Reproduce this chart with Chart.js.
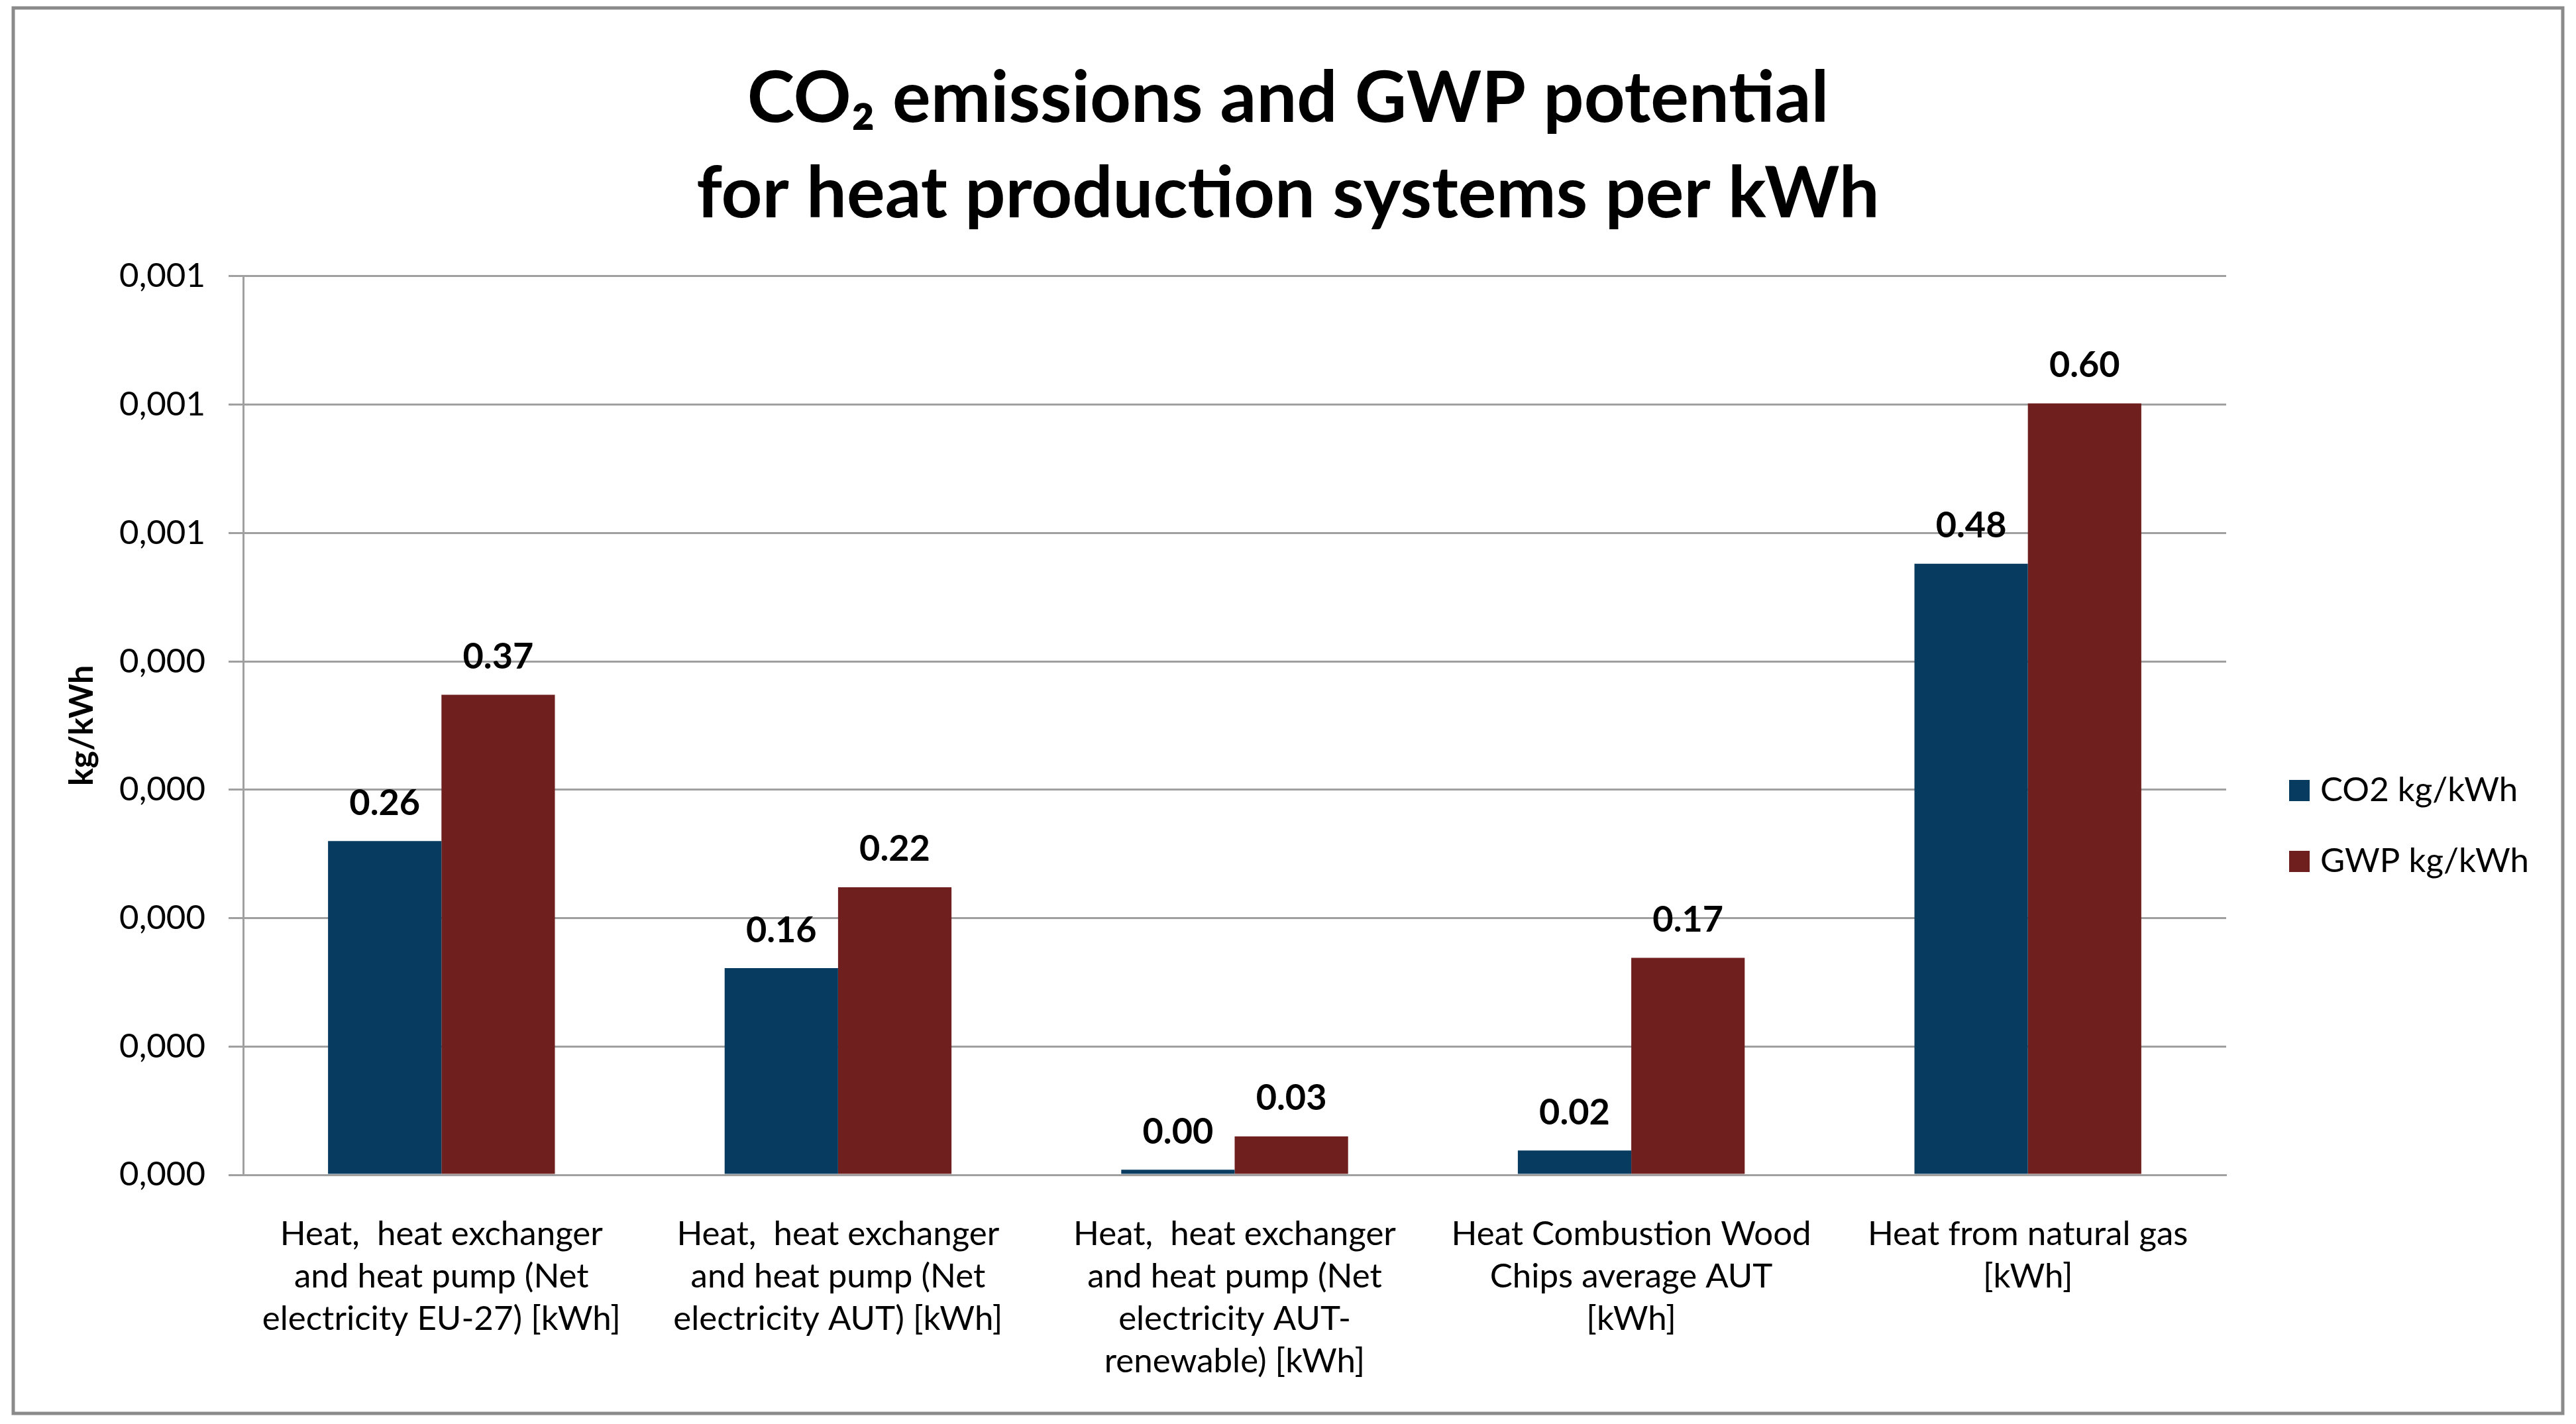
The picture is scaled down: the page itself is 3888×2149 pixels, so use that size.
<!DOCTYPE html>
<html lang="en">

<head>
    <meta charset="UTF-8" />
    <title>CO2 emissions and GWP potential</title>
    <script src="https://cdn.jsdelivr.net/npm/chart.js"></script>
    <style>
        html, body { margin: 0; padding: 0; background: #fff; }
        canvas { display: block; }
    </style>
</head>

<body>
    <canvas id="emissionChart" width="3888" height="2149" style="width:3888px;height:2149px;"></canvas>

    <script>
        // DATA (kg per kWh)
        const categories = [
            ["Heat,  heat exchanger", "and heat pump (Net", "electricity EU-27) [kWh]"],
            ["Heat,  heat exchanger", "and heat pump (Net", "electricity AUT) [kWh]"],
            ["Heat,  heat exchanger", "and heat pump (Net", "electricity AUT-", "renewable) [kWh]"],
            ["Heat Combustion Wood", "Chips average AUT", "[kWh]"],
            ["Heat from natural gas", "[kWh]"]
        ];
        const seriesNames = ["CO2 kg/kWh", "GWP kg/kWh"];
        const co2Values = [0.00026, 0.000161, 0.000004, 0.000019, 0.000476];
        const gwpValues = [0.000374, 0.000224, 0.00003, 0.000169, 0.000601];
        const seriesColors = ["#073B5F", "#6F1F1E"];

        const FONT = "Lato, 'Open Sans', sans-serif";

        // WHITE BACKGROUND AND GREY FRAME
        const framePlugin = {
            id: "frame",
            beforeDraw(chart) {
                const ctx = chart.ctx;
                ctx.save();
                ctx.fillStyle = "#fff";
                ctx.fillRect(0, 0, chart.width, chart.height);
                ctx.strokeStyle = "#8a8a8a";
                ctx.lineWidth = 5;
                ctx.strokeRect(20, 12, 3848, 2121);
                ctx.restore();
            }
        };

        // VALUE LABELS ABOVE BARS
        const valueLabels = {
            id: "valueLabels",
            afterDatasetsDraw(chart) {
                const ctx = chart.ctx;
                ctx.save();
                ctx.font = "bold 54px " + FONT;
                ctx.fillStyle = "#000";
                ctx.textAlign = "center";
                ctx.textBaseline = "middle";
                chart.data.datasets.forEach((ds, i) => {
                    chart.getDatasetMeta(i).data.forEach((bar, j) => {
                        ctx.fillText((ds.data[j] * 1000).toFixed(2), bar.x, bar.y - 57);
                    });
                });
                ctx.restore();
            }
        };

        // LEGEND ON THE RIGHT
        const sideLegend = {
            id: "sideLegend",
            afterDraw(chart) {
                const ctx = chart.ctx;
                ctx.save();
                ctx.font = "51px " + FONT;
                ctx.textBaseline = "middle";
                chart.data.datasets.forEach((ds, i) => {
                    const y = 1193 + i * 107;
                    ctx.fillStyle = ds.backgroundColor;
                    ctx.fillRect(3455, y - 16, 31, 32);
                    ctx.fillStyle = "#000";
                    ctx.fillText(ds.label, 3502, y);
                });
                ctx.restore();
            }
        };

        function tickText(v) {
            const r = Math.round(Math.round(v * 10000) / 10) / 1000;
            return r.toFixed(3).replace(".", ",");
        }

        new Chart(document.getElementById("emissionChart"), {
            type: "bar",
            data: {
                labels: categories,
                datasets: [
                    { label: seriesNames[0], data: co2Values, backgroundColor: seriesColors[0] },
                    { label: seriesNames[1], data: gwpValues, backgroundColor: seriesColors[1] }
                ]
            },
            options: {
                responsive: false,
                animation: false,
                devicePixelRatio: 1,
                layout: { padding: 0 },
                datasets: {
                    bar: { categoryPercentage: 0.572, barPercentage: 1.0 }
                },
                plugins: {
                    legend: { display: false },
                    tooltip: { enabled: false },
                    title: {
                        display: true,
                        text: ["CO\u2082 emissions and GWP potential", "for heat production systems per kWh"],
                        color: "#000",
                        font: { family: FONT, size: 108, weight: "bold", lineHeight: 1.333 },
                        padding: { top: 77, bottom: 52 }
                    }
                },
                scales: {
                    x: {
                        grid: { display: false },
                        border: { display: true, color: "#a0a0a0", width: 3 },
                        ticks: {
                            color: "#000",
                            font: { family: FONT, size: 51, lineHeight: 1.25 },
                            padding: 50,
                            maxRotation: 0,
                            autoSkip: false
                        },
                        afterFit(scale) { scale.height = 376; }
                    },
                    y: {
                        min: 0,
                        max: 0.0007,
                        ticks: {
                            stepSize: 0.0001,
                            color: "#000",
                            font: { family: FONT, size: 51 },
                            padding: 35,
                            callback: tickText
                        },
                        grid: { color: "#a0a0a0", lineWidth: 3, tickLength: 22 },
                        border: { display: true, color: "#a0a0a0", width: 3 },
                        title: {
                            display: true,
                            text: "kg/kWh",
                            color: "#000",
                            font: { family: FONT, size: 50, weight: "bold", lineHeight: 1.2 },
                            padding: { top: 94, bottom: 0 }
                        },
                        afterFit(scale) { scale.width = 367; }
                    },
                    // EMPTY RIGHT AXIS, KEEPS ROOM FOR THE LEGEND
                    legendSpace: {
                        position: "right",
                        ticks: { display: false },
                        grid: { display: false },
                        border: { display: false },
                        afterFit(scale) { scale.width = 528; }
                    }
                }
            },
            plugins: [framePlugin, valueLabels, sideLegend]
        });
    </script>
</body>
</html>
